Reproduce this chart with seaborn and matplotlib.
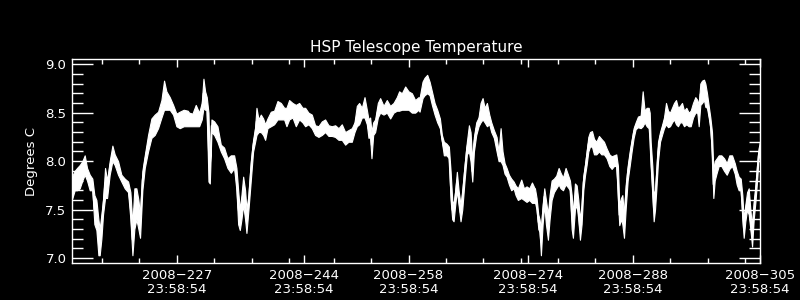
import numpy as np
import pandas as pd
import matplotlib
matplotlib.use("Agg")
import matplotlib.pyplot as plt
import seaborn as sns
from matplotlib.ticker import FixedLocator

# ---- data (day of year 2008, min/max temperature in deg C) ----
days = [
    213.04, 213.35, 213.66, 214.02, 214.37, 214.69, 215.00, 215.36, 215.71, 215.98,
    216.25, 216.52, 216.69, 216.92, 217.14, 217.41, 217.68, 218.03, 218.39, 218.70,
    219.15, 219.59, 220.04, 220.49, 220.80, 221.07, 221.33, 221.60, 221.87, 222.09,
    222.40, 222.72, 223.16, 223.61, 224.05, 224.50, 224.95, 225.30, 225.61, 226.06,
    226.51, 226.95, 227.40, 227.93, 228.47,
    228.65, 229.10, 229.54, 229.99, 230.34, 230.57, 230.79, 231.01, 231.24, 231.42,
    231.64, 232.00, 232.44, 232.89, 233.33, 233.78, 234.23, 234.67, 234.98, 235.21,
    235.43, 235.65, 235.88, 236.14, 236.32, 236.59, 236.90, 237.21, 237.48, 237.66,
    237.93, 238.24, 238.55, 238.82, 239.13, 239.58, 240.02, 240.47, 240.92, 241.36,
    241.67, 242.03, 242.48, 242.92, 243.37, 243.81,
    244.17, 244.61, 245.06, 245.50, 245.95, 246.40, 246.84, 247.29, 247.73, 248.18,
    248.63, 249.07, 249.52, 249.96, 250.41, 250.77, 251.08, 251.39, 251.75, 252.11,
    252.42, 252.64, 252.86, 253.04, 253.27, 253.53, 253.89, 254.20, 254.65, 255.09,
    255.54, 255.99, 256.43, 256.74, 257.10, 257.55, 257.99, 258.44, 258.88, 259.33,
    259.47, 259.87, 260.14, 260.49, 260.81, 261.12, 261.48, 261.83, 262.19, 262.46,
    262.72, 263.08, 263.39, 263.62, 263.84, 264.02, 264.24, 264.46, 264.69, 264.95,
    265.18, 265.49, 265.80, 266.07, 266.29, 266.52, 266.74, 267.05, 267.36, 267.63,
    267.90, 268.17, 268.48, 268.79, 269.06, 269.41, 269.77, 270.04, 270.31, 270.57,
    270.84, 271.11, 271.42, 271.73, 272.05, 272.31, 272.62, 273.07, 273.43, 273.78,
    274.14, 274.50, 274.86,
    274.90, 275.12, 275.35, 275.52, 275.70, 275.93, 276.15, 276.37, 276.64, 276.86,
    277.13, 277.44, 277.75, 278.07, 278.33, 278.65, 279.00, 279.32, 279.58, 279.81,
    279.98, 280.25, 280.48, 280.70, 280.92, 281.14, 281.37, 281.59, 281.81, 282.04,
    282.26, 282.53, 282.80, 283.11, 283.46, 283.78, 284.13, 284.49, 284.85, 285.16,
    285.47, 285.78, 286.00, 286.18, 286.41, 286.59, 286.81, 287.03, 287.30, 287.57,
    287.83, 288.10, 288.37, 288.68, 289.04, 289.31, 289.57, 289.84, 290.11, 290.25,
    290.38, 290.60, 290.78, 290.96, 291.13, 291.36, 291.63, 291.89, 292.16, 292.43,
    292.70, 292.96, 293.23, 293.50, 293.77, 294.03, 294.30, 294.57, 294.84, 295.15,
    295.46, 295.73, 296.04, 296.35, 296.62, 296.80, 297.02, 297.25, 297.51, 297.69,
    297.91, 298.14, 298.36, 298.58, 298.76, 298.94, 299.21, 299.48, 299.83, 300.19,
    300.55, 300.90, 301.26, 301.62, 301.88, 302.15, 302.42, 302.64, 302.82, 303.04,
    303.27, 303.49, 303.71, 303.94, 304.16, 304.39, 304.61, 304.78, 304.96,
]
temp_low = [
    7.62, 7.70, 7.70, 7.72, 7.80, 7.86, 7.80, 7.70, 7.70, 7.35,
    7.29, 7.03, 7.03, 7.20, 7.45, 7.62, 7.62, 7.86, 8.00, 7.96,
    7.86, 7.79, 7.72, 7.68, 7.40, 7.03, 7.30, 7.40, 7.30, 7.21,
    7.70, 7.93, 8.10, 8.24, 8.27, 8.34, 8.45, 8.53, 8.53, 8.53,
    8.48, 8.36, 8.34, 8.36, 8.36,
    8.36, 8.36, 8.36, 8.36, 8.43, 8.55, 8.53, 8.53, 7.79, 7.77,
    8.30, 8.27, 8.20, 8.10, 8.03, 7.93, 7.88, 7.93, 7.70, 7.35,
    7.29, 7.40, 7.55, 7.40, 7.26, 7.50, 7.80, 8.10, 8.20, 8.27,
    8.30, 8.30, 8.27, 8.22, 8.34, 8.36, 8.38, 8.43, 8.43, 8.43,
    8.36, 8.43, 8.45, 8.36, 8.43, 8.40,
    8.36, 8.38, 8.34, 8.27, 8.25, 8.27, 8.30, 8.26, 8.26, 8.25,
    8.22, 8.22, 8.17, 8.20, 8.20, 8.30, 8.36, 8.38, 8.45, 8.45,
    8.38, 8.24, 8.25, 8.03, 8.27, 8.30, 8.45, 8.50, 8.48, 8.50,
    8.44, 8.50, 8.52, 8.52, 8.53, 8.53, 8.53, 8.50, 8.50, 8.53,
    8.51, 8.65, 8.68, 8.70, 8.68, 8.58, 8.48, 8.40, 8.34, 8.20,
    8.06, 8.06, 8.03, 7.60, 7.40, 7.38, 7.55, 7.70, 7.55, 7.38,
    7.50, 7.80, 8.07, 8.10, 8.00, 7.79, 8.10, 8.27, 8.36, 8.40,
    8.43, 8.40, 8.36, 8.38, 8.30, 8.24, 8.10, 8.00, 8.00, 7.96,
    7.87, 7.84, 7.76, 7.70, 7.72, 7.65, 7.60, 7.62, 7.60, 7.58,
    7.60, 7.57, 7.57,
    7.58, 7.50, 7.30, 7.27, 7.03, 7.35, 7.55, 7.35, 7.19, 7.40,
    7.60, 7.68, 7.72, 7.76, 7.72, 7.70, 7.76, 7.73, 7.70, 7.30,
    7.21, 7.50, 7.55, 7.40, 7.19, 7.35, 7.70, 7.85, 7.96, 8.10,
    8.15, 8.15, 8.07, 8.07, 8.10, 8.07, 8.07, 8.03, 7.95, 7.92,
    7.95, 7.95, 7.60, 7.34, 7.40, 7.35, 7.21, 7.50, 7.80, 7.95,
    8.10, 8.24, 8.33, 8.35, 8.34, 8.36, 8.40, 8.36, 8.34, 8.20,
    7.95, 7.65, 7.38, 7.50, 7.70, 8.00, 8.20, 8.27, 8.34, 8.38,
    8.35, 8.36, 8.40, 8.43, 8.38, 8.36, 8.40, 8.40, 8.36, 8.38,
    8.36, 8.36, 8.45, 8.50, 8.50, 8.36, 8.58, 8.60, 8.63, 8.56,
    8.55, 8.45, 8.34, 8.05, 7.62, 7.80, 7.88, 7.95, 7.95, 7.90,
    7.86, 7.92, 7.95, 7.87, 7.76, 7.70, 7.70, 7.40, 7.21, 7.38,
    7.50, 7.45, 7.30, 7.12, 7.40, 7.58, 7.80, 8.00, 8.10,
]
temp_high = [
    7.85, 7.90, 7.93, 7.96, 8.00, 8.06, 7.93, 7.86, 7.82, 7.65,
    7.60, 7.40, 7.30, 7.45, 7.60, 7.93, 7.80, 8.00, 8.16, 8.07,
    8.00, 7.86, 7.82, 7.79, 7.68, 7.35, 7.72, 7.72, 7.60, 7.45,
    7.90, 8.06, 8.27, 8.44, 8.48, 8.51, 8.63, 8.83, 8.72, 8.66,
    8.58, 8.49, 8.51, 8.53, 8.52,
    8.50, 8.49, 8.58, 8.50, 8.60, 8.85, 8.72, 8.66, 8.50, 7.95,
    8.43, 8.41, 8.36, 8.17, 8.14, 8.03, 8.06, 8.06, 7.93, 7.70,
    7.50, 7.65, 7.84, 7.70, 7.50, 7.65, 8.00, 8.22, 8.35, 8.55,
    8.43, 8.48, 8.44, 8.38, 8.44, 8.51, 8.52, 8.62, 8.60, 8.55,
    8.55, 8.63, 8.60, 8.58, 8.60, 8.55,
    8.55, 8.50, 8.48, 8.37, 8.36, 8.41, 8.43, 8.37, 8.36, 8.37,
    8.34, 8.38, 8.30, 8.32, 8.34, 8.40, 8.57, 8.60, 8.55, 8.66,
    8.53, 8.43, 8.45, 8.30, 8.40, 8.43, 8.60, 8.65, 8.57, 8.63,
    8.57, 8.60, 8.66, 8.72, 8.70, 8.77, 8.72, 8.70, 8.63, 8.66,
    8.65, 8.82, 8.86, 8.89, 8.82, 8.72, 8.60, 8.53, 8.44, 8.27,
    8.20, 8.18, 8.15, 7.90, 7.60, 7.55, 7.70, 7.89, 7.70, 7.55,
    7.70, 7.96, 8.20, 8.37, 8.30, 8.00, 8.25, 8.40, 8.45, 8.60,
    8.65, 8.55, 8.60, 8.48, 8.40, 8.32, 8.25, 8.10, 8.34, 8.10,
    7.98, 7.93, 7.86, 7.82, 7.79, 7.75, 7.72, 7.81, 7.72, 7.74,
    7.72, 7.78, 7.72,
    7.72, 7.62, 7.45, 7.40, 7.30, 7.55, 7.72, 7.60, 7.45, 7.65,
    7.80, 7.82, 7.85, 7.93, 7.88, 7.83, 7.93, 7.86, 7.80, 7.65,
    7.45, 7.77, 7.75, 7.60, 7.40, 7.55, 7.85, 7.96, 8.10, 8.25,
    8.30, 8.31, 8.23, 8.20, 8.26, 8.23, 8.20, 8.13, 8.07, 8.05,
    8.06, 8.07, 7.95, 7.55, 7.62, 7.65, 7.45, 7.75, 7.95, 8.10,
    8.22, 8.34, 8.40, 8.46, 8.47, 8.72, 8.52, 8.55, 8.55, 8.50,
    8.20, 7.95, 7.65, 7.70, 7.90, 8.20, 8.30, 8.37, 8.45, 8.60,
    8.52, 8.50, 8.55, 8.60, 8.63, 8.55, 8.57, 8.60, 8.52, 8.55,
    8.50, 8.52, 8.60, 8.66, 8.63, 8.58, 8.80, 8.83, 8.84, 8.80,
    8.70, 8.57, 8.45, 8.30, 7.90, 8.00, 8.03, 8.06, 8.06, 8.03,
    7.98, 8.06, 8.06, 7.98, 7.90, 7.84, 7.82, 7.65, 7.40, 7.55,
    7.68, 7.72, 7.50, 7.32, 7.58, 7.75, 7.96, 8.10, 8.20,
]

title = "HSP Telescope Temperature"
ylabel = "Degrees C"
major_days = [227, 244, 258, 274, 288, 305]
major_labels = ["2008\u2212227\n23:58:54", "2008\u2212244\n23:58:54", "2008\u2212258\n23:58:54",
                "2008\u2212274\n23:58:54", "2008\u2212288\n23:58:54", "2008\u2212305\n23:58:54"]
minor_days = [217, 222, 232, 237, 242, 248, 253, 263, 268, 273, 278, 283, 293, 298, 303]
y_ticks = [7.0, 7.5, 8.0, 8.5, 9.0]
y_labels = ["7.0", "7.5", "8.0", "8.5", "9.0"]

# ---- build long-form table: each sample contributes its min and max ----
df = pd.concat([
    pd.DataFrame({"day": days, "temp": temp_low}),
    pd.DataFrame({"day": days, "temp": temp_high}),
], ignore_index=True)

sns.set_theme(style="ticks", rc={
    "figure.facecolor": "black",
    "axes.facecolor": "black",
    "axes.edgecolor": "white",
    "axes.labelcolor": "white",
    "text.color": "white",
    "xtick.color": "white",
    "ytick.color": "white",
    "axes.linewidth": 1.0,
})
plt.rcParams["font.family"] = ["DejaVu Sans"]

fig = plt.figure(figsize=(8, 3), dpi=100)
ax = fig.add_axes([0.09, 0.1233, 0.86, 0.679])

sns.lineplot(data=df, x="day", y="temp", estimator="mean", errorbar=("pi", 100),
             color="white", linewidth=1.0, err_kws={"alpha": 1.0, "linewidth": 0.8,
                                                    "edgecolor": "white"}, ax=ax)

ax.set_xlim(212.99, 305.0)
ax.set_ylim(6.95, 9.05)

ax.xaxis.set_major_locator(FixedLocator(major_days))
ax.set_xticklabels(major_labels)
ax.xaxis.set_minor_locator(FixedLocator(minor_days))
ax.set_yticks(y_ticks)
ax.set_yticklabels(y_labels)
ax.yaxis.set_minor_locator(FixedLocator([7.1, 7.2, 7.3, 7.4, 7.6, 7.7, 7.8, 7.9,
                                         8.1, 8.2, 8.3, 8.4, 8.6, 8.7, 8.8, 8.9]))

ax.tick_params(axis="x", which="major", direction="in", length=6, width=1,
               top=True, bottom=True, labelsize=9.5, pad=4)
ax.tick_params(axis="x", which="minor", direction="in", length=3.5, width=1,
               top=True, bottom=True)
ax.tick_params(axis="y", which="major", direction="in", length=15, width=1,
               left=True, right=True, labelsize=9.5, pad=4)
ax.tick_params(axis="y", which="minor", direction="in", length=8, width=1,
               left=True, right=True)
for lab in ax.get_xticklabels():
    lab.set_linespacing(1.1)

for s in ax.spines.values():
    s.set_color("white")
    s.set_linewidth(1.0)

ax.set_xlabel("")
ax.set_ylabel(ylabel, fontsize=9.5)
ax.yaxis.set_label_coords(-0.05, 0.5)
ax.set_title(title, fontsize=11, pad=5, color="white")

fig.savefig("out.png", dpi=100, facecolor="black")
